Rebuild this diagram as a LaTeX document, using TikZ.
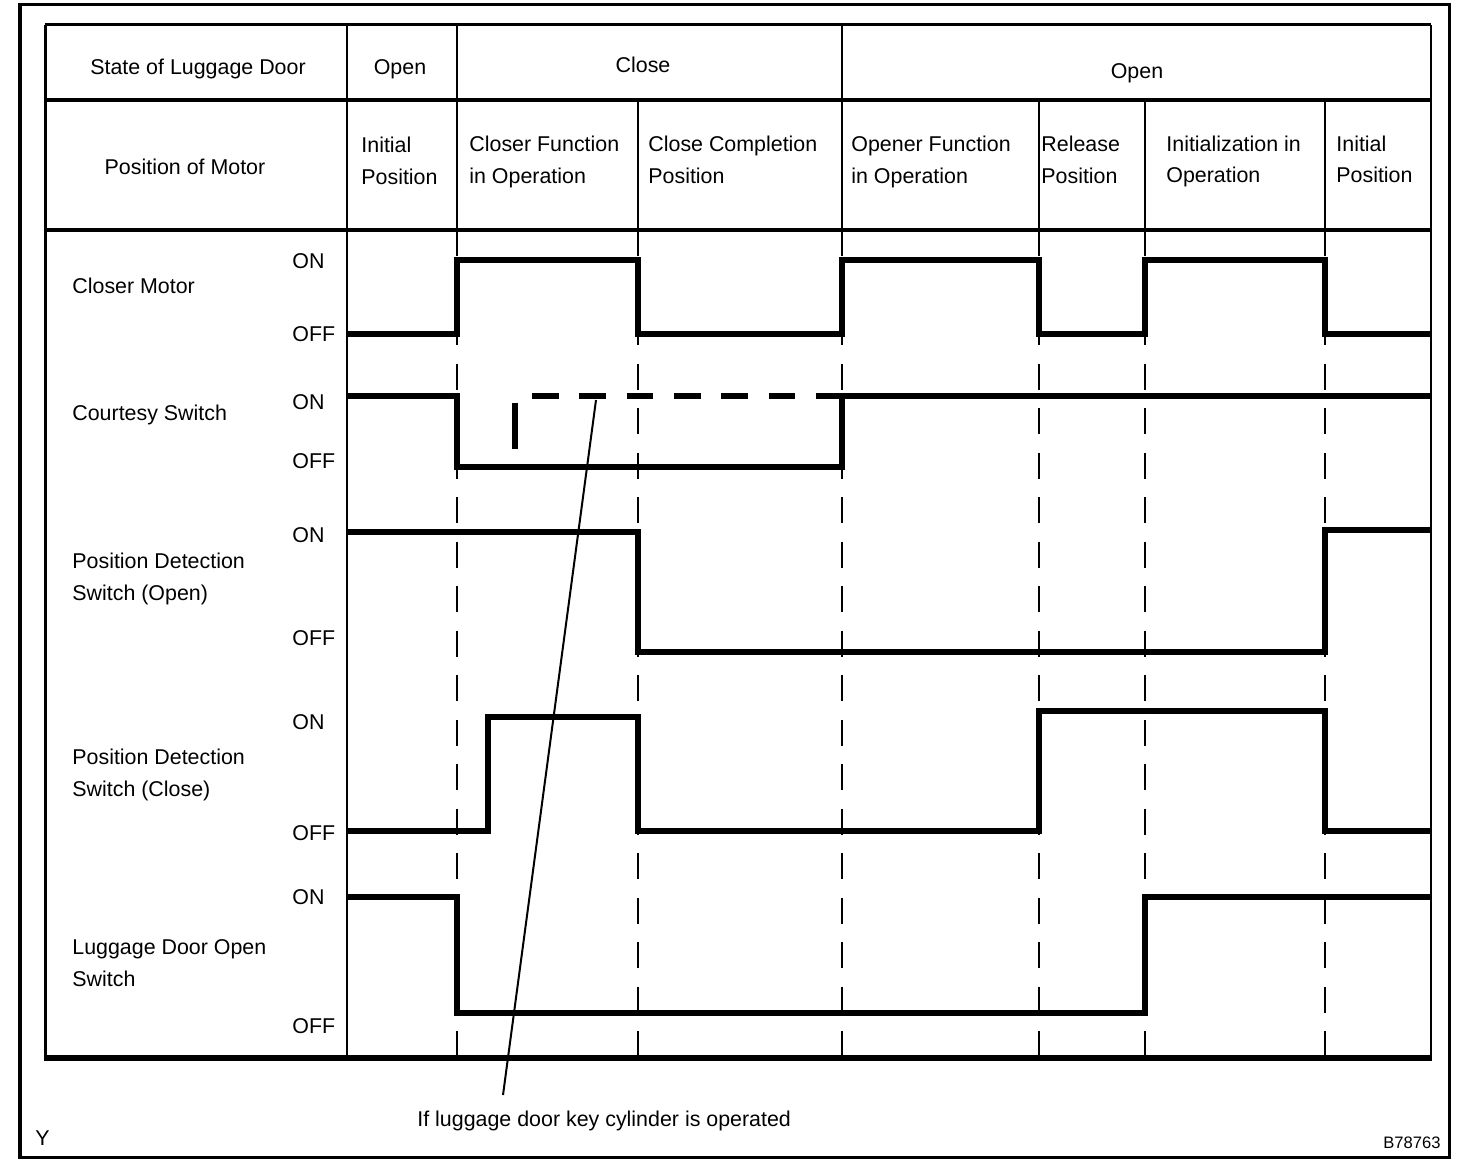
\documentclass[tikz,border=0pt]{standalone}
\usepackage{fontspec}
\setmainfont{Liberation Sans}
\begin{document}
\begin{tikzpicture}[x=0.5pt,y=-0.5pt,
  txt/.style={inner sep=0pt, font=\fontsize{10.7}{16}\selectfont},
  smalltxt/.style={inner sep=0pt, font=\fontsize{8.3}{10}\selectfont},
  outerframe/.style={line width=1.6pt},
  tborder/.style={line width=1.5pt},
  colline/.style={line width=1.4pt},
  rowline/.style={line width=2pt},
  dashcol/.style={line width=1.4pt, dash pattern=on 13pt off 9.25pt},
  wave/.style={line width=3.3pt, line join=miter},
  wavedash/.style={line width=3.3pt, dash pattern=on 13.3pt off 10.35pt},
  leader/.style={line width=1pt}
]
\useasboundingbox (0,0) rectangle (1472,1172);
\fill[white] (0,0) rectangle (1472,1172);

% outer frame
\draw[outerframe] (20,4.5) rectangle (1449.5,1157.5);

% table border
\draw[tborder] (45,25) -- (1431,25);
\draw[tborder] (45,25) -- (45,1058);
\draw[line width=2.6pt] (44,1058) -- (1432,1058);
\draw[line width=1pt] (1431,25) -- (1431,1058);

% header rows
\draw[rowline] (45,100) -- (1431,100);
\draw[rowline] (45,230) -- (1431,230);

% column lines
\draw[colline] (347,25) -- (347,1058);
\draw[colline] (457,25) -- (457,230);
\draw[colline] (842,25) -- (842,230);
\foreach \cx in {638,1039,1145,1325} \draw[colline] (\cx,100) -- (\cx,230);
\foreach \cx in {457,638,842,1039,1145,1325} \draw[dashcol] (\cx,230) -- (\cx,1058);

% header texts
\node[txt, anchor=base] (hstate) at (198,75) {State of Luggage Door};
\node[txt, anchor=base] (hopen1) at (400,75) {Open};
\node[txt, anchor=base] (hclose) at (643,73) {Close};
\node[txt, anchor=base] (hopen2) at (1137,79) {Open};
\node[txt, anchor=base] (hpos) at (185,175) {Position of Motor};

\node[txt, anchor=base west] (p1) at (361,153) {\begin{tabular}[t]{@{}l@{}}Initial\\Position\end{tabular}};
\node[txt, anchor=base west] (p2) at (469,152) {\begin{tabular}[t]{@{}l@{}}Closer Function\\in Operation\end{tabular}};
\node[txt, anchor=base west] (p3) at (648,152) {\begin{tabular}[t]{@{}l@{}}Close Completion\\Position\end{tabular}};
\node[txt, anchor=base west] (p4) at (851,152) {\begin{tabular}[t]{@{}l@{}}Opener Function\\in Operation\end{tabular}};
\node[txt, anchor=base west] (p5) at (1041,152) {\begin{tabular}[t]{@{}l@{}}Release\\Position\end{tabular}};
\node[txt, anchor=base west] (p6) at (1166,151) {\begin{tabular}[t]{@{}l@{}}Initialization in\\Operation\end{tabular}};
\node[txt, anchor=base west] (p7) at (1336,151) {\begin{tabular}[t]{@{}l@{}}Initial\\Position\end{tabular}};

% row labels
\node[txt, anchor=base west] (lcm) at (72,293) {Closer Motor};
\node[txt, anchor=base west] (lcs) at (72,420) {Courtesy Switch};
\node[txt, anchor=base west] (lpo) at (72,568) {\begin{tabular}[t]{@{}l@{}}Position Detection\\Switch (Open)\end{tabular}};
\node[txt, anchor=base west] (lpc) at (72,764) {\begin{tabular}[t]{@{}l@{}}Position Detection\\Switch (Close)\end{tabular}};
\node[txt, anchor=base west] (llo) at (72,954) {\begin{tabular}[t]{@{}l@{}}Luggage Door Open\\Switch\end{tabular}};

% ON / OFF labels
\node[txt, anchor=base west] (on1) at (292,268) {ON};
\node[txt, anchor=base west] (off1) at (292,341) {OFF};
\node[txt, anchor=base west] (on2) at (292,409) {ON};
\node[txt, anchor=base west] (off2) at (292,468) {OFF};
\node[txt, anchor=base west] (on3) at (292,542) {ON};
\node[txt, anchor=base west] (off3) at (292,645) {OFF};
\node[txt, anchor=base west] (on4) at (292,729) {ON};
\node[txt, anchor=base west] (off4) at (292,840) {OFF};
\node[txt, anchor=base west] (on5) at (292,904) {ON};
\node[txt, anchor=base west] (off5) at (292,1033) {OFF};

% waveforms
\draw[wave] (347,334) -- (457,334) -- (457,260) -- (638,260) -- (638,334) -- (842,334) -- (842,260) -- (1039,260) -- (1039,334) -- (1145,334) -- (1145,260) -- (1325,260) -- (1325,334) -- (1430,334);
\draw[wave] (347,396) -- (457,396) -- (457,467) -- (842,467) -- (842,396) -- (1430,396);
\draw[wavedash] (532,396) -- (842,396);
\draw[line width=3pt] (515,403) -- (515,449);
\draw[wave] (347,532) -- (638,532) -- (638,652) -- (1325,652) -- (1325,530) -- (1430,530);
\draw[wave] (347,831) -- (488,831) -- (488,717) -- (638,717) -- (638,831) -- (1039,831) -- (1039,711) -- (1325,711) -- (1325,831) -- (1430,831);
\draw[wave] (347,897) -- (457,897) -- (457,1013) -- (1145,1013) -- (1145,897) -- (1430,897);

% leader and note
\coordinate (ldtop) at (596,400);
\coordinate (ldbot) at (503,1095);
\draw[leader] (ldtop) -- (ldbot);
\node[txt, anchor=base west] (note) at (417,1126) {If luggage door key cylinder is operated};
\node[txt, anchor=base west] (ymark) at (35,1145) {Y};
\node[smalltxt, anchor=base east] (code) at (1441,1148) {B78763};
\end{tikzpicture}
\end{document}
